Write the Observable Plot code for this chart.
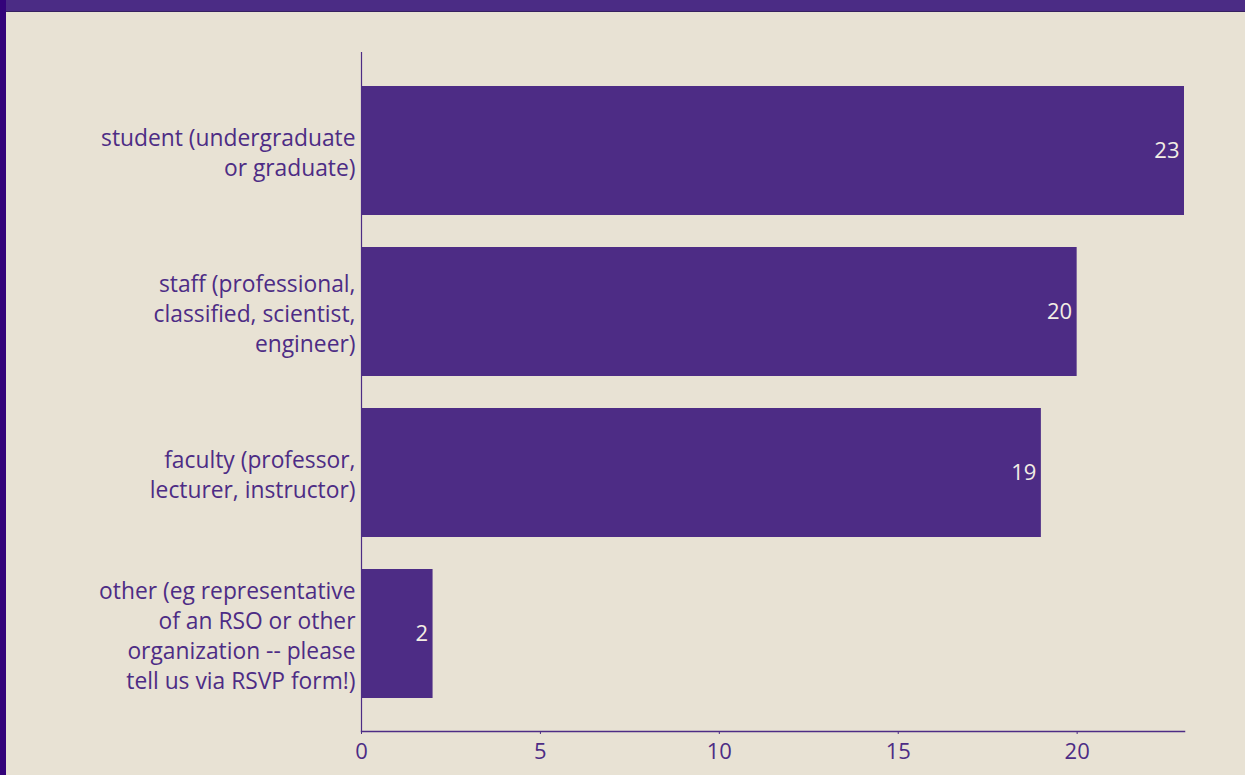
<!DOCTYPE html>
<html>
<head>
<meta charset="utf-8">
<script src="https://cdn.jsdelivr.net/npm/d3@7"></script>
<script src="https://cdn.jsdelivr.net/npm/@observablehq/plot@0.6"></script>
<style>
  html, body { margin: 0; padding: 0; background: #e8e2d4; }
  #frame {
    width: 1245px; height: 775px; box-sizing: border-box;
    border-left: 6px solid #33037a; background: #e8e2d4; overflow: hidden;
  }
  #bar { height: 11px; background: #4b2c85; border-bottom: 1px solid #36205f; }
  #chart svg { display: block; }
</style>
</head>
<body>
<div id="frame">
  <div id="bar"></div>
  <div id="chart"></div>
</div>
<script>
// Respondent roles and their counts
const roles = ["student", "staff", "faculty", "other"];
const counts = [23, 20, 19, 2];
const roleLabels = [
  "student (undergraduate\nor graduate)",
  "staff (professional,\nclassified, scientist,\nengineer)",
  "faculty (professor,\nlecturer, instructor)",
  "other (eg representative\nof an RSO or other\norganization -- please\ntell us via RSVP form!)"
];
const xTicks = [0, 5, 10, 15, 20];

const purple = "#4d2c85";
const data = roles.map((r, i) => ({role: r, count: counts[i], label: roleLabels[i]}));
const labelOf = new Map(data.map(d => [d.role, d.label]));

const chart = Plot.plot({
  width: 1239,
  height: 763,
  marginTop: 40,
  marginBottom: 44,
  marginLeft: 355,
  marginRight: 61,
  style: {background: "#e8e2d4", color: purple, fontFamily: "'Open Sans', sans-serif"},
  x: {domain: [0, 23], ticks: xTicks, label: null},
  y: {domain: roles, padding: 0.2, label: null},
  marks: [
    Plot.barX(data, {y: "role", x: "count", fill: purple}),
    Plot.text(data, {
      y: "role", x: "count", text: d => String(d.count),
      textAnchor: "end", dx: -5, fill: "#f3eee4", fontSize: 22
    }),
    Plot.axisY({
      tickSize: 0, tickPadding: 6, fontSize: 22.8, lineHeight: 1.32,
      tickFormat: r => labelOf.get(r), fill: purple
    }),
    Plot.axisX({
      ticks: xTicks, tickSize: 3, tickPadding: 9, fontSize: 22,
      stroke: purple, fill: purple
    }),
    Plot.ruleX([0], {stroke: purple, strokeWidth: 1.2}),
    Plot.frame({anchor: "bottom", stroke: purple, strokeWidth: 1.5})
  ]
});
document.getElementById("chart").appendChild(chart);
</script>
</body>
</html>
